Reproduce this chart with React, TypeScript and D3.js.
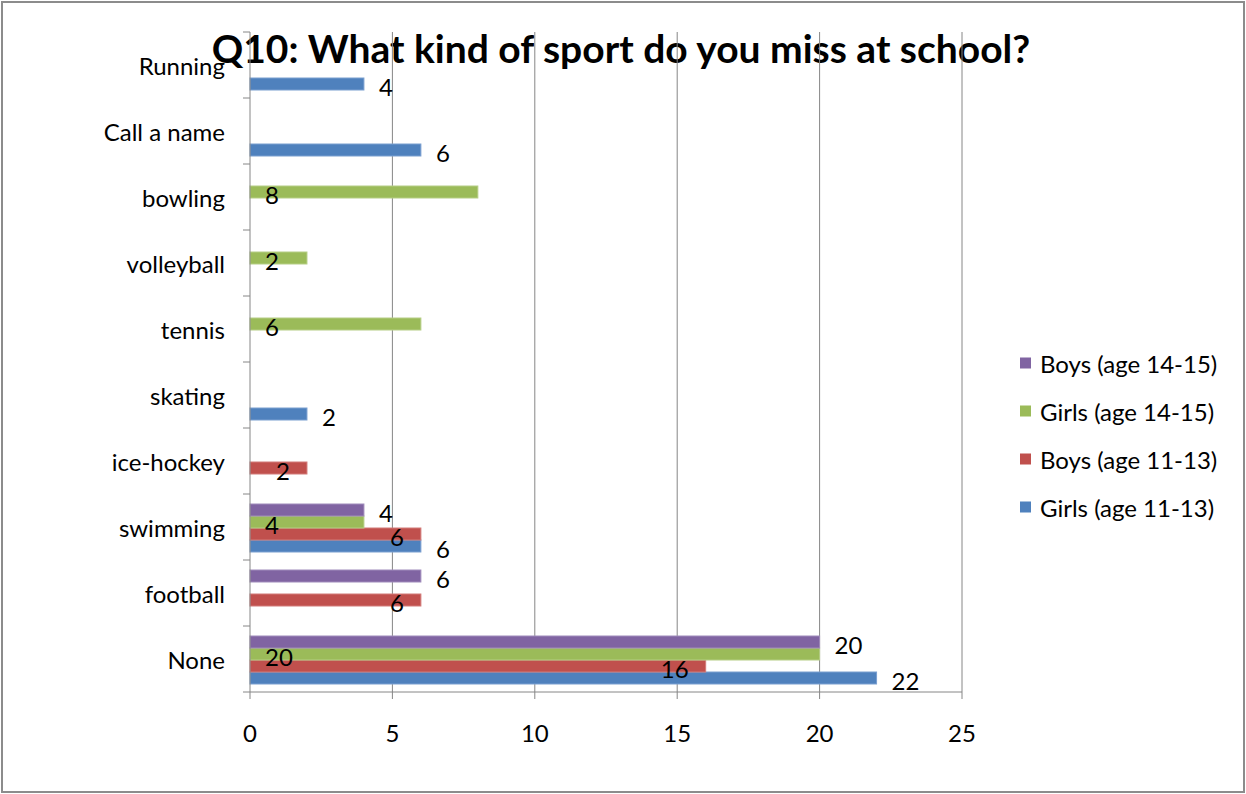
import React from "react";
import * as d3 from "d3";

const categories = ["None", "football", "swimming", "ice-hockey", "skating", "tennis", "volleyball", "bowling", "Call a name", "Running"];
const seriesNames = ["Girls (age 11-13)", "Boys (age 11-13)", "Girls (age 14-15)", "Boys (age 14-15)"];
const girls1113 = [22, 0, 6, 0, 2, 0, 0, 0, 6, 4];
const boys1113 = [16, 6, 6, 2, 0, 0, 0, 0, 0, 0];
const girls1415 = [20, 0, 4, 0, 0, 6, 2, 8, 0, 0];
const boys1415 = [20, 6, 4, 0, 0, 0, 0, 0, 0, 0];
const xTicks = [0, 5, 10, 15, 20, 25];
const title = "Q10: What kind of sport do you miss at school?";

const colors = ["#4F81BD", "#C0504D", "#9BBB59", "#8064A2"];
const borders = ["#7A9FD0", "#D27A78", "#B5CE85", "#A08BBB"];
// label placement style per series (mimics the reference's odd label offsets)
const labelMode = ["outEnd", "inEnd", "base", "outEnd"];

export default function App() {
  const W = 1246, H = 794;
  const left = 250, right = 962, top = 32, bottom = 692;
  const font = "Lato, 'Open Sans', sans-serif";
  const fs = 24;
  const values = [girls1113, boys1113, girls1415, boys1415];

  const x = d3.scaleLinear().domain([0, 25]).range([left, right]);
  const y = d3.scaleBand<string>().domain(categories.slice().reverse()).range([top, bottom]);
  const bw = y.bandwidth();
  const barH = 12;
  const inner = d3.scaleBand<number>().domain([3, 2, 1, 0]).range([10, 10 + barH * 4]);

  return (
    <svg width={W} height={H} style={{ position: "absolute", left: 0, top: 0 }}>
      <rect x={0} y={0} width={W} height={H} fill="#fff" />
      <rect x={2} y={2} width={W - 4} height={H - 4} fill="none" stroke="#8c8c8c" strokeWidth={2} />
      <text x={621} y={63} textAnchor="middle" fontFamily={font} fontWeight="bold" fontSize={39} fill="#000">{title}</text>
      {xTicks.slice(1).map((t) => (
        <line key={"g" + t} x1={x(t)} x2={x(t)} y1={top} y2={bottom} stroke="#868686" strokeWidth={1} />
      ))}
      {values.map((vals, s) =>
        vals.map((v, i) =>
          v > 0 ? (
            <rect key={`b${s}-${i}`} x={x(0)} y={(y(categories[i]) as number) + (inner(s) as number)} width={x(v) - x(0)} height={barH}
              fill={colors[s]} stroke={borders[s]} strokeWidth={1} />
          ) : null
        )
      )}
      <line x1={left} x2={left} y1={top} y2={bottom} stroke="#868686" />
      <line x1={left} x2={right} y1={bottom} y2={bottom} stroke="#868686" />
      {d3.range(categories.length + 1).map((k) => (
        <line key={"yt" + k} x1={left - 7} x2={left} y1={top + k * bw} y2={top + k * bw} stroke="#868686" />
      ))}
      {xTicks.map((t) => (
        <g key={"xt" + t}>
          <line x1={x(t)} x2={x(t)} y1={bottom} y2={bottom + 7} stroke="#868686" />
          <text x={x(t)} y={732} textAnchor="middle" dominantBaseline="central" fontFamily={font} fontSize={fs} fill="#000">{t}</text>
        </g>
      ))}
      {categories.map((c) => (
        <text key={"c" + c} x={225} y={(y(c) as number) + bw / 2} textAnchor="end" dominantBaseline="central" fontFamily={font} fontSize={fs} fill="#000">{c}</text>
      ))}
      {values.map((vals, s) =>
        vals.map((v, i) => {
          if (v <= 0) return null;
          const cy = (y(categories[i]) as number) + (inner(s) as number) + barH / 2 + 2;
          const mode = labelMode[s];
          let lx = x(v) + 15, anchor = "start";
          if (mode === "inEnd") { lx = x(v) - 17; anchor = "end"; }
          if (mode === "base") { lx = x(0) + 15; anchor = "start"; }
          return (
            <text key={`l${s}-${i}`} x={lx} y={cy} textAnchor={anchor} dominantBaseline="central" fontFamily={font} fontSize={fs} fill="#000">{v}</text>
          );
        })
      )}
      {seriesNames.map((n, k) => {
        const s = seriesNames.length - 1 - k;
        const ly = 363 + k * 48;
        return (
          <g key={"lg" + k}>
            <rect x={1020} y={ly - 5.5} width={11} height={11} fill={colors[s]} />
            <text x={1040} y={ly} dominantBaseline="central" fontFamily={font} fontSize={fs} fill="#000">{seriesNames[s]}</text>
          </g>
        );
      })}
    </svg>
  );
}
